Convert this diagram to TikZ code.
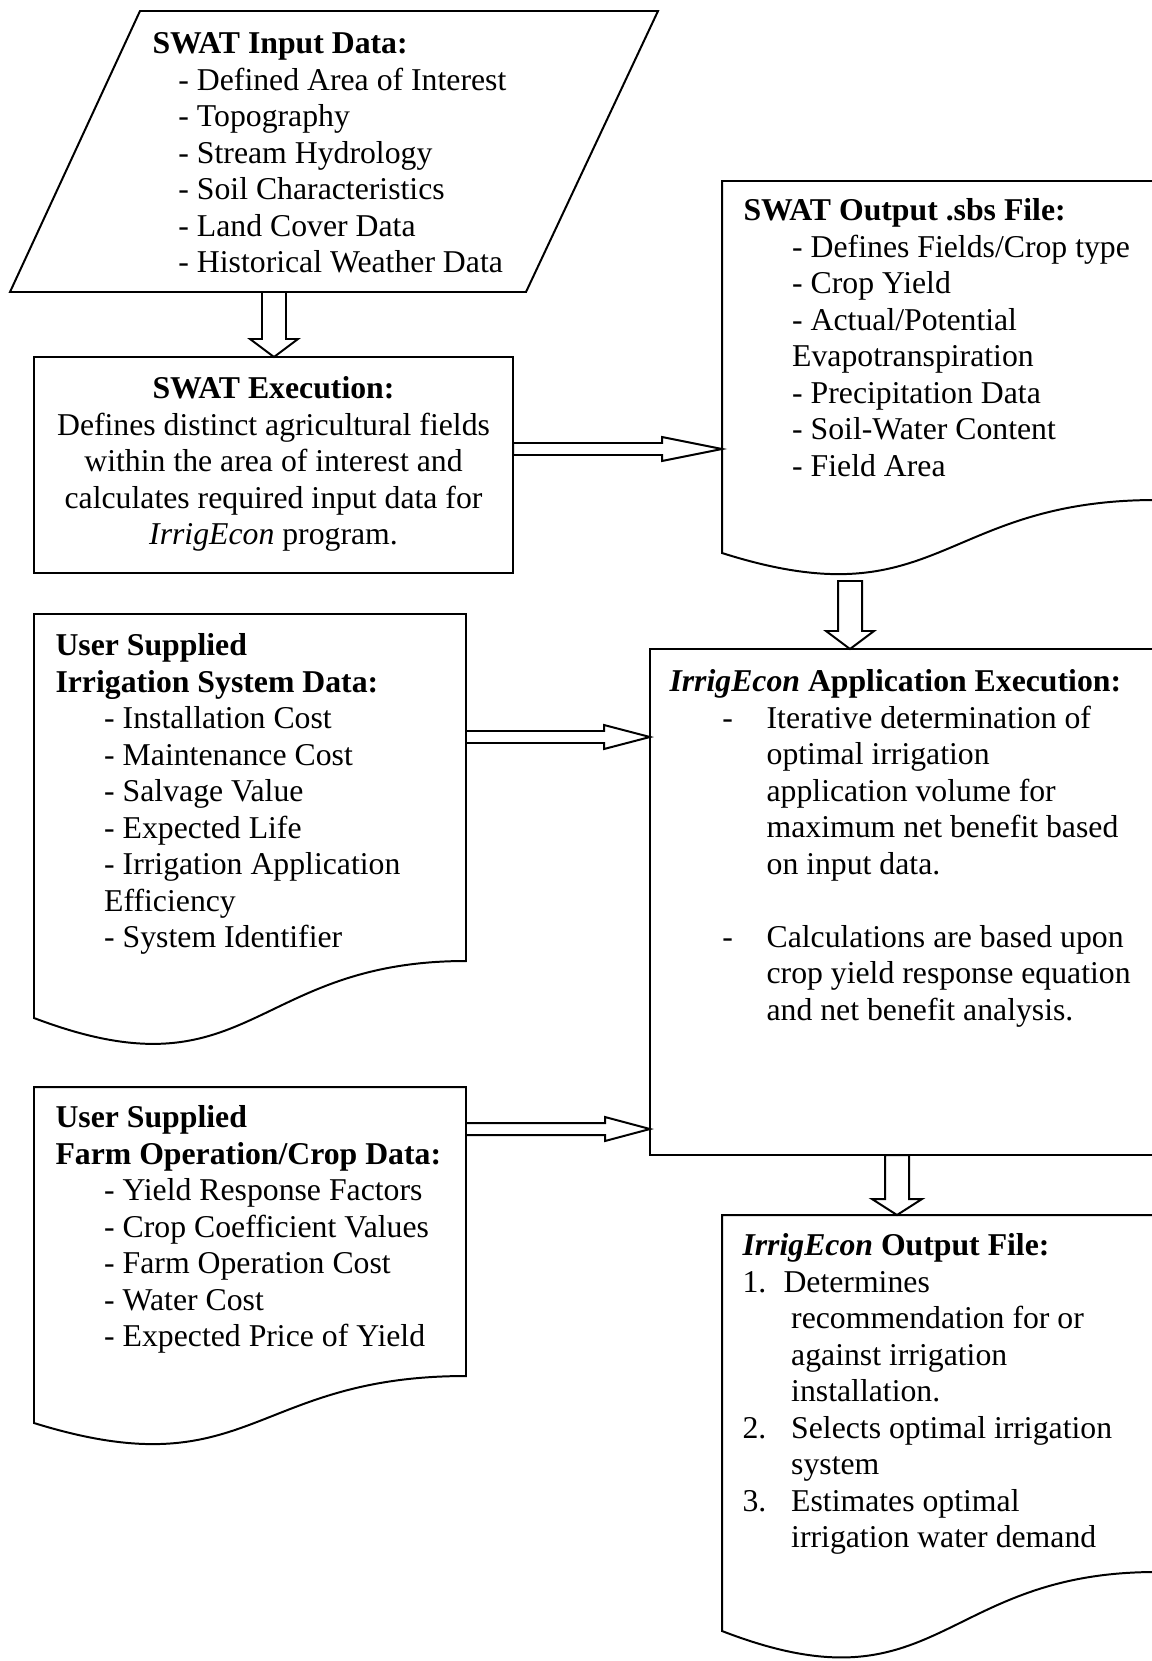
\documentclass[tikz,border=0pt]{standalone}
\usepackage{fontspec}
\setmainfont{Liberation Serif}
\usetikzlibrary{calc}
\tikzset{
  box/.style={line width=0.75pt},
  blk/.style={line width=0.75pt,fill=white},
  txt/.style={inner sep=0pt,anchor=north west,align=left,font=\fontsize{12}{13.8}\selectfont}
}
% hollow block arrows: tail, tip, shaft half width, head half width, head length
\newcommand\blkdown[5]{\draw[blk] ($(#1)+(-#3,0)$) -- ($(#2)+(-#3,-#5)$) -- ($(#2)+(-#4,-#5)$)
  -- (#2) -- ($(#2)+(#4,-#5)$) -- ($(#2)+(#3,-#5)$) -- ($(#1)+(#3,0)$) -- cycle;}
\newcommand\blkright[5]{\draw[blk] ($(#1)+(0,-#3)$) -- ($(#2)+(-#5,-#3)$) -- ($(#2)+(-#5,-#4)$)
  -- (#2) -- ($(#2)+(-#5,#4)$) -- ($(#2)+(-#5,#3)$) -- ($(#1)+(0,#3)$) -- cycle;}
\newcommand\ind{\hspace*{18.4pt}}
\begin{document}
\begin{tikzpicture}[x=0.378pt,y=-0.378pt]
\useasboundingbox (0,0) rectangle (1151,1661);
% boxes
\draw[box] (140,11) -- (658,11) -- (526,292) -- (10,292) -- cycle;
\draw[box] (34,357) rectangle (513,573);
\draw[box] (722,181) -- (1156,181) -- (1156,500) .. controls (939,500) and (939,622) .. (722,553) -- cycle;
\draw[box] (34,614) -- (466,614) -- (466,961) .. controls (250,961) and (250,1100) .. (34,1018) -- cycle;
\draw[box] (34,1087) -- (466,1087) -- (466,1376) .. controls (250,1376) and (250,1490) .. (34,1423) -- cycle;
\draw[box] (650,649) rectangle (1156,1155);
\draw[box] (722,1215) -- (1156,1215) -- (1156,1572) .. controls (939,1572) and (939,1715) .. (722,1631) -- cycle;
% texts
\node[txt] (inp) at (152,27.5) {\strut\textbf{SWAT Input Data:}\\
  \hspace*{9.8pt}- Defined Area of Interest\\
  \hspace*{9.8pt}- Topography\\
  \hspace*{9.8pt}- Stream Hydrology\\
  \hspace*{9.8pt}- Soil Characteristics\\
  \hspace*{9.8pt}- Land Cover Data\\
  \hspace*{9.8pt}- Historical Weather Data};
\node[txt,anchor=north,align=center] (exec) at (273.5,372.5) {\strut\textbf{SWAT Execution:}\\
  Defines distinct agricultural fields\\
  within the area of interest and\\
  calculates required input data for\\
  \textit{IrrigEcon} program.};
\node[txt] (sbs) at (743,194.5) {\strut\textbf{SWAT Output .sbs File:}\\
  \ind- Defines Fields/Crop type\\
  \ind- Crop Yield\\
  \ind- Actual/Potential\\
  \ind Evapotranspiration\\
  \ind- Precipitation Data\\
  \ind- Soil-Water Content\\
  \ind- Field Area};
\node[txt] (irr) at (55,629.5) {\strut\textbf{User Supplied}\\
  \textbf{Irrigation System Data:}\\
  \ind- Installation Cost\\
  \ind- Maintenance Cost\\
  \ind- Salvage Value\\
  \ind- Expected Life\\
  \ind- Irrigation Application\\
  \ind Efficiency\\
  \ind- System Identifier};
\node[txt] (farm) at (55,1101.5) {\strut\textbf{User Supplied}\\
  \textbf{Farm Operation/Crop Data:}\\
  \ind- Yield Response Factors\\
  \ind- Crop Coefficient Values\\
  \ind- Farm Operation Cost\\
  \ind- Water Cost\\
  \ind- Expected Price of Yield};
\node[txt] (app) at (669,665.5) {\strut\textbf{\textit{IrrigEcon} Application Execution:}\\
  \hspace*{20pt}\makebox[16.7pt][l]{-}Iterative determination of\\
  \hspace*{36.7pt}optimal irrigation\\
  \hspace*{36.7pt}application volume for\\
  \hspace*{36.7pt}maximum net benefit based\\
  \hspace*{36.7pt}on input data.\\[13.8pt]
  \hspace*{20pt}\makebox[16.7pt][l]{-}Calculations are based upon\\
  \hspace*{36.7pt}crop yield response equation\\
  \hspace*{36.7pt}and net benefit analysis.};
\node[txt] (res) at (742,1229.5) {\strut\textbf{\textit{IrrigEcon} Output File:}\\
  \makebox[15.5pt][l]{1.}Determines\\
  \ind recommendation for or\\
  \ind against irrigation\\
  \ind installation.\\
  \makebox[18.4pt][l]{2.}Selects optimal irrigation\\
  \ind system\\
  \makebox[18.4pt][l]{3.}Estimates optimal\\
  \ind irrigation water demand};
% connectors
\coordinate (inp-s) at (274,292);  \coordinate (exec-n) at (274,357);
\coordinate (exec-e) at (513,449); \coordinate (sbs-w) at (722,449);
\coordinate (sbs-s) at (850,581);  \coordinate (app-n) at (850,649);
\coordinate (irr-e) at (466,737);  \coordinate (app-w1) at (650,737);
\coordinate (farm-e) at (466,1129); \coordinate (app-w2) at (650,1129);
\coordinate (app-s) at (897,1155); \coordinate (res-n) at (897,1215);
\blkdown{inp-s}{exec-n}{12}{24}{18}
\blkright{exec-e}{sbs-w}{6}{12}{60}
\blkdown{sbs-s}{app-n}{12}{24}{18}
\blkright{irr-e}{app-w1}{6}{12}{46}
\blkright{farm-e}{app-w2}{6}{12}{45}
\blkdown{app-s}{res-n}{12}{25}{16}
\end{tikzpicture}
\end{document}
